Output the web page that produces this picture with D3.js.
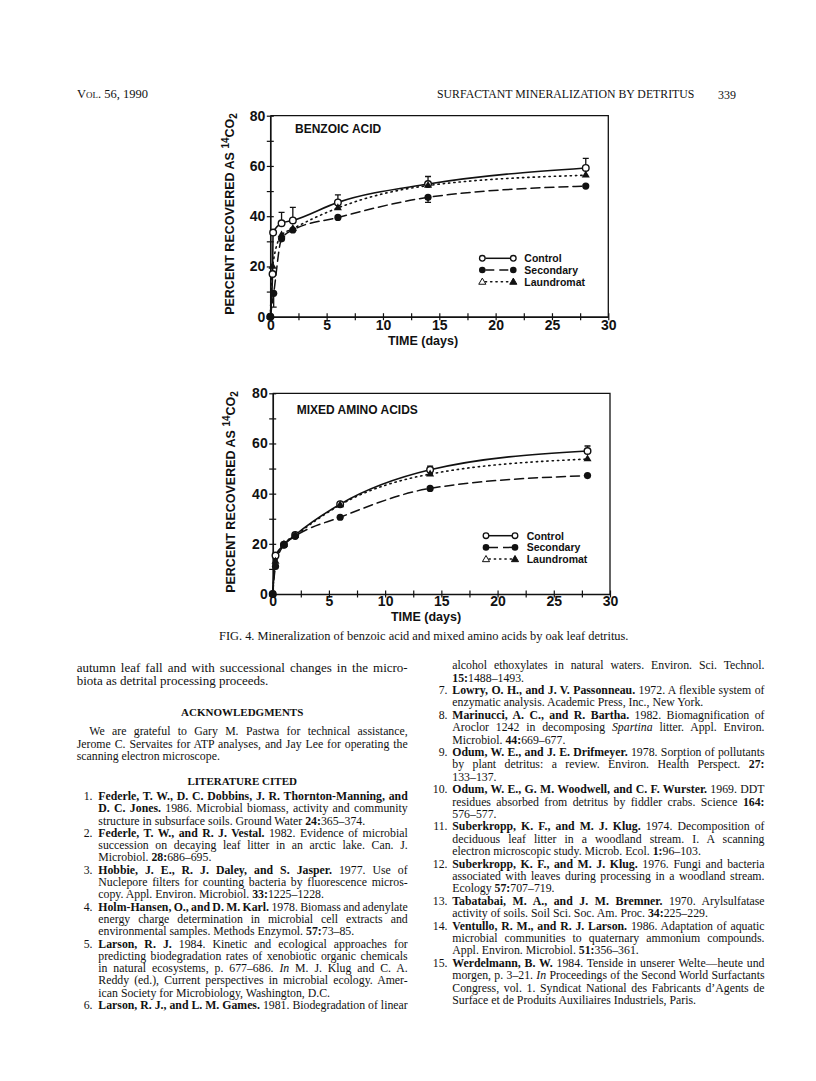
<!DOCTYPE html>
<html>
<head>
<meta charset="utf-8">
<script src="https://cdnjs.cloudflare.com/ajax/libs/d3/7.8.5/d3.min.js"></script>
<style>
body { margin: 0; background: #fff; }
#page { position: relative; width: 816px; height: 1081px; overflow: hidden; background: #fff; }
#page svg { position: absolute; left: 0; top: 0; }
.ln { position: absolute; font-family: "Liberation Serif", "Times New Roman", serif; line-height: 1; white-space: nowrap; color: #111; }
.chart text { font-family: "Liberation Sans", Arial, sans-serif; font-weight: bold; fill: #111; }
</style>
</head>
<body>
<div id="page"></div>
<script>
// ---- chart data ----
var benzoicControlDays = [0, 0.2, 0.25, 1, 2, 6, 14, 28];
var benzoicControl     = [0, 17, 33.5, 37.2, 38.3, 45.5, 52.8, 59.2];
var benzoicControlErr  = [0, 0, 0, 4.3, 5.2, 3, 3, 3.8];
var benzoicSecondaryDays = [0, 0.3, 1, 2, 6, 14, 28];
var benzoicSecondary     = [0, 9.3, 31, 34.5, 39.5, 47.5, 52];
var benzoicSecondaryErr  = [0, -5.5, 0, 0, 0, -2, 0];
var benzoicLaundromatDays = [0, 0.2, 1, 2, 6, 14, 28];
var benzoicLaundromat     = [0, 20, 32.5, 35, 43.3, 52.2, 56.3];

var aminoDays       = [0, 0.25, 1, 2, 6, 14, 28];
var aminoControl    = [0, 15.3, 19.6, 23.5, 35.8, 49.5, 57];
var aminoControlErr = [0, 0, 0, 0, 0, 1.5, 2];
var aminoSecondary  = [0, 11, 19.6, 23, 30.6, 42.1, 47.2];
var aminoLaundromat = [0, 13, 19.8, 23.3, 35.5, 47.8, 53.8];

var xTicks = [0, 5, 10, 15, 20, 25, 30];
var yTicks = [0, 20, 40, 60, 80];
var legendNames = ['Control', 'Secondary', 'Laundromat'];

// ---- page text ----
var leftLines = [
  ['body', 'autumn leaf fall and with successional changes in the micro-', true],
  ['body', 'biota as detrital processing proceeds.', false]
];
var ackLines = [
  ['We are grateful to Gary M. Pastwa for technical assistance,', true],
  ['Jerome C. Servaites for ATP analyses, and Jay Lee for operating the', true],
  ['scanning electron microscope.', false]
];
var leftRefs = [
  ['1.', '<b>Federle, T. W., D. C. Dobbins, J. R. Thornton-Manning, and</b>', true],
  ['', '<b>D. C. Jones.</b> 1986. Microbial biomass, activity and community', true],
  ['', 'structure in subsurface soils. Ground Water <b>24:</b>365–374.', false],
  ['2.', '<b>Federle, T. W., and R. J. Vestal.</b> 1982. Evidence of microbial', true],
  ['', 'succession on decaying leaf litter in an arctic lake. Can. J.', true],
  ['', 'Microbiol. <b>28:</b>686–695.', false],
  ['3.', '<b>Hobbie, J. E., R. J. Daley, and S. Jasper.</b> 1977. Use of', true],
  ['', 'Nuclepore filters for counting bacteria by fluorescence micros-', true],
  ['', 'copy. Appl. Environ. Microbiol. <b>33:</b>1225–1228.', false],
  ['4.', '<b>Holm-Hansen, O., and D. M. Karl.</b> 1978. Biomass and adenylate', true],
  ['', 'energy charge determination in microbial cell extracts and', true],
  ['', 'environmental samples. Methods Enzymol. <b>57:</b>73–85.', false],
  ['5.', '<b>Larson, R. J.</b> 1984. Kinetic and ecological approaches for', true],
  ['', 'predicting biodegradation rates of xenobiotic organic chemicals', true],
  ['', 'in natural ecosystems, p. 677–686. <i>In</i> M. J. Klug and C. A.', true],
  ['', 'Reddy (ed.), Current perspectives in microbial ecology. Amer-', true],
  ['', 'ican Society for Microbiology, Washington, D.C.', false],
  ['6.', '<b>Larson, R. J., and L. M. Games.</b> 1981. Biodegradation of linear', true]
];
var rightRefs = [
  ['', 'alcohol ethoxylates in natural waters. Environ. Sci. Technol.', true],
  ['', '<b>15:</b>1488–1493.', false],
  ['7.', '<b>Lowry, O. H., and J. V. Passonneau.</b> 1972. A flexible system of', true],
  ['', 'enzymatic analysis. Academic Press, Inc., New York.', false],
  ['8.', '<b>Marinucci, A. C., and R. Bartha.</b> 1982. Biomagnification of', true],
  ['', 'Aroclor 1242 in decomposing <i>Spartina</i> litter. Appl. Environ.', true],
  ['', 'Microbiol. <b>44:</b>669–677.', false],
  ['9.', '<b>Odum, W. E., and J. E. Drifmeyer.</b> 1978. Sorption of pollutants', true],
  ['', 'by plant detritus: a review. Environ. Health Perspect. <b>27:</b>', true],
  ['', '133–137.', false],
  ['10.', '<b>Odum, W. E., G. M. Woodwell, and C. F. Wurster.</b> 1969. DDT', true],
  ['', 'residues absorbed from detritus by fiddler crabs. Science <b>164:</b>', true],
  ['', '576–577.', false],
  ['11.', '<b>Suberkropp, K. F., and M. J. Klug.</b> 1974. Decomposition of', true],
  ['', 'deciduous leaf litter in a woodland stream. I. A scanning', true],
  ['', 'electron microscopic study. Microb. Ecol. <b>1:</b>96–103.', false],
  ['12.', '<b>Suberkropp, K. F., and M. J. Klug.</b> 1976. Fungi and bacteria', true],
  ['', 'associated with leaves during processing in a woodland stream.', true],
  ['', 'Ecology <b>57:</b>707–719.', false],
  ['13.', '<b>Tabatabai, M. A., and J. M. Bremner.</b> 1970. Arylsulfatase', true],
  ['', 'activity of soils. Soil Sci. Soc. Am. Proc. <b>34:</b>225–229.', false],
  ['14.', '<b>Ventullo, R. M., and R. J. Larson.</b> 1986. Adaptation of aquatic', true],
  ['', 'microbial communities to quaternary ammonium compounds.', true],
  ['', 'Appl. Environ. Microbiol. <b>51:</b>356–361.', false],
  ['15.', '<b>Werdelmann, B. W.</b> 1984. Tenside in unserer Welte—heute und', true],
  ['', 'morgen, p. 3–21. <i>In</i> Proceedings of the Second World Surfactants', true],
  ['', 'Congress, vol. 1. Syndicat National des Fabricants d’Agents de', true],
  ['', 'Surface et de Produits Auxiliaires Industriels, Paris.', false]
];

var page = d3.select("#page");

// one line of text; y is the visual middle of the line
function putLine(x, y, html, fs, opt) {
  opt = opt || {};
  var d = page.append("div").attr("class", "ln")
    .style("left", x + "px")
    .style("top", (y - 0.54 * fs) + "px")
    .style("font-size", fs + "px")
    .html(html);
  if (opt.bold) d.style("font-weight", "bold");
  if (opt.caps) d.style("font-variant", "small-caps");
  var w = d.node().getBoundingClientRect().width;
  if (opt.justifyTo) {
    var n = (d.node().textContent.match(/ /g) || []).length;
    if (n) d.style("word-spacing", ((opt.justifyTo - x - w) / n) + "px");
  }
  if (opt.center) d.style("left", (opt.center - w / 2) + "px");
  if (opt.right) d.style("left", (opt.right - w) + "px");
  return d;
}

// header
putLine(77, 95, 'Vol. 56, 1990', 12.5, {caps: true});
putLine(437, 95, 'SURFACTANT MINERALIZATION BY DETRITUS', 11.8);
putLine(718, 95, '339', 12);

// caption
putLine(219, 636.7, 'FIG. 4. Mineralization of benzoic acid and mixed amino acids by oak leaf detritus.', 12.4);

// left column
var colL = 76.7, colLR = 407.7, fsRef = 11.8;
putLine(colL, 667.7, leftLines[0][1], 13, {justifyTo: colLR});
putLine(colL, 681, leftLines[1][1], 13);
putLine(0, 712.7, 'ACKNOWLEDGMENTS', 11, {bold: true, center: (colL + colLR) / 2});
ackLines.forEach(function (l, i) {
  var x = i === 0 ? 89.3 : colL;
  putLine(x, 732.7 + i * 12.2, l[0], fsRef, l[1] ? {justifyTo: colLR} : {});
});
putLine(0, 782.3, 'LITERATURE CITED', 11, {bold: true, center: (colL + colLR) / 2});
leftRefs.forEach(function (l, i) {
  var y = 797.3 + i * 12.3;
  if (l[0]) putLine(0, y, l[0], fsRef, {right: 92.5});
  putLine(98.3, y, l[1], fsRef, l[2] ? {justifyTo: colLR} : {});
});

// right column
rightRefs.forEach(function (l, i) {
  var y = 666.5 + i * 12.4;
  if (l[0]) putLine(0, y, l[0], fsRef, {right: 447.5});
  putLine(452.3, y, l[1], fsRef, l[2] ? {justifyTo: 764.5} : {});
});

// ---- charts ----
var svg = page.append("svg").attr("width", 816).attr("height", 1081).attr("class", "chart");

function series(days, vals, errs) {
  return days.map(function (d, i) { return {t: d, v: vals[i], e: errs ? errs[i] : 0}; });
}

function drawChart(cfg) {
  var g = svg.append("g");
  var x = d3.scaleLinear().domain([0, 30]).range([cfg.left, cfg.right]);
  var y = d3.scaleLinear().domain([0, 80]).range([cfg.bottom, cfg.top]);

  // top and right frame
  g.append("path")
    .attr("d", "M" + cfg.left + "," + cfg.top + "H" + cfg.right + "V" + cfg.bottom)
    .attr("fill", "none").attr("stroke", "#111").attr("stroke-width", 1.3);

  var xa = g.append("g").attr("transform", "translate(0," + cfg.bottom + ")")
    .call(d3.axisBottom(x).tickValues(d3.range(0, 30.01, 2.5)).tickSize(3.5).tickSizeOuter(0)
      .tickFormat(function (d) { return xTicks.indexOf(d) >= 0 ? d : ""; }));
  xa.selectAll(".tick line").attr("y1", -3.5).attr("stroke", "#111").attr("stroke-width", 1.2);
  xa.select(".domain").attr("stroke", "#111").attr("stroke-width", 1.7);
  xa.selectAll(".tick text").attr("y", cfg.xLabelY).style("font-size", "14px");

  var ya = g.append("g").attr("transform", "translate(" + cfg.left + ",0)")
    .call(d3.axisLeft(y).tickValues(d3.range(0, 80.01, 10)).tickSize(3.5).tickSizeOuter(0)
      .tickFormat(function (d) { return yTicks.indexOf(d) >= 0 ? d : ""; }));
  ya.selectAll(".tick line").attr("x1", 3.5).attr("stroke", "#111").attr("stroke-width", 1.2);
  ya.select(".domain").attr("stroke", "#111").attr("stroke-width", 1.7);
  ya.selectAll(".tick text").attr("x", -5).style("font-size", "14px");

  // axis titles
  g.append("text").attr("x", cfg.timeX).attr("y", cfg.timeY)
    .attr("text-anchor", "middle").style("font-size", "12.5px").text("TIME (days)");
  var yl = g.append("text")
    .attr("transform", "translate(" + cfg.ylabX + "," + cfg.ylabY + ") rotate(-90)")
    .attr("text-anchor", "middle").style("font-size", "12.5px");
  yl.append("tspan").text("PERCENT RECOVERED AS ");
  yl.append("tspan").attr("dy", -5).style("font-size", "10px").text("14");
  yl.append("tspan").attr("dy", 5).text("CO");
  yl.append("tspan").attr("dy", 3).style("font-size", "10px").text("2");

  g.append("text").attr("x", cfg.titleX).attr("y", cfg.titleY)
    .style("font-size", "12px").text(cfg.title);

  var line = d3.line().x(function (d) { return x(d.t); }).y(function (d) { return y(d.v); })
    .curve(d3.curveMonotoneX);

  var styles = [
    {dash: null, w: 1.6},
    {dash: "9,5", w: 1.5},
    {dash: "1.3,4", w: 1.6}
  ];
  cfg.data.forEach(function (s, k) {
    g.append("path").datum(s).attr("d", line).attr("fill", "none")
      .attr("stroke", "#111").attr("stroke-width", styles[k].w)
      .attr("stroke-dasharray", styles[k].dash).attr("stroke-linecap", "round");
  });

  // error bars
  cfg.data.forEach(function (s) {
    s.filter(function (d) { return d.e; }).forEach(function (d) {
      var x0 = x(d.t), y0 = y(d.v), y1 = y(d.v + d.e);
      g.append("path").attr("d", "M" + x0 + "," + y0 + "V" + y1 + "M" + (x0 - 3) + "," + y1 + "H" + (x0 + 3))
        .attr("stroke", "#111").attr("stroke-width", 1.3).attr("fill", "none");
    });
  });

  var tri = d3.symbol().type(d3.symbolTriangle).size(28);
  // markers: open circles, triangles, filled circles
  g.selectAll(".c0").data(cfg.data[0]).join("circle")
    .attr("cx", function (d) { return x(d.t); }).attr("cy", function (d) { return y(d.v); })
    .attr("r", 3.3).attr("fill", "#fff").attr("stroke", "#111").attr("stroke-width", 1.4);
  g.selectAll(".c2").data(cfg.data[2]).join("path")
    .attr("transform", function (d) { return "translate(" + x(d.t) + "," + y(d.v) + ")"; })
    .attr("d", tri).attr("fill", "#111");
  g.selectAll(".c1").data(cfg.data[1]).join("circle")
    .attr("cx", function (d) { return x(d.t); }).attr("cy", function (d) { return y(d.v); })
    .attr("r", 3.6).attr("fill", "#111");

  // legend
  var L = cfg.legend;
  legendNames.forEach(function (name, k) {
    var yy = L.y + k * 11.7;
    g.append("line").attr("x1", L.x0 + 3).attr("x2", L.x1 - 3).attr("y1", yy).attr("y2", yy)
      .attr("stroke", "#111").attr("stroke-width", 1.5).attr("stroke-dasharray", styles[k].dash)
      .attr("stroke-linecap", k === 2 ? "round" : "butt");
    [L.x0, L.x1].forEach(function (xx, j) {
      if (k === 0) g.append("circle").attr("cx", xx).attr("cy", yy).attr("r", 2.8)
        .attr("fill", "#fff").attr("stroke", "#111").attr("stroke-width", 1.3);
      if (k === 1) g.append("circle").attr("cx", xx).attr("cy", yy).attr("r", 3.3).attr("fill", "#111");
      if (k === 2) g.append("path").attr("transform", "translate(" + xx + "," + (yy + 0.5) + ")")
        .attr("d", d3.symbol().type(d3.symbolTriangle).size(22))
        .attr("fill", j === 0 ? "#fff" : "#111").attr("stroke", "#111").attr("stroke-width", 1);
    });
    g.append("text").attr("x", L.tx).attr("y", yy + 3.8).style("font-size", "10.5px").text(name);
  });
}

drawChart({
  left: 270.3, right: 608.3, top: 115.7, bottom: 316.7,
  xLabelY: 3.5, timeX: 423, timeY: 344.5,
  ylabX: 234, ylabY: 214,
  title: "BENZOIC ACID", titleX: 295, titleY: 132.7,
  legend: {x0: 482.3, x1: 513.3, tx: 524.3, y: 258.3},
  data: [
    series(benzoicControlDays, benzoicControl, benzoicControlErr),
    series(benzoicSecondaryDays, benzoicSecondary, benzoicSecondaryErr),
    series(benzoicLaundromatDays, benzoicLaundromat)
  ]
});

drawChart({
  left: 272.7, right: 610, top: 393.3, bottom: 594,
  xLabelY: 2.5, timeX: 426, timeY: 621,
  ylabX: 235, ylabY: 492,
  title: "MIXED AMINO ACIDS", titleX: 296.7, titleY: 414,
  legend: {x0: 486, x1: 515, tx: 526.7, y: 535.7},
  data: [
    series(aminoDays, aminoControl, aminoControlErr),
    series(aminoDays, aminoSecondary),
    series(aminoDays, aminoLaundromat)
  ]
});
</script>
</body>
</html>
